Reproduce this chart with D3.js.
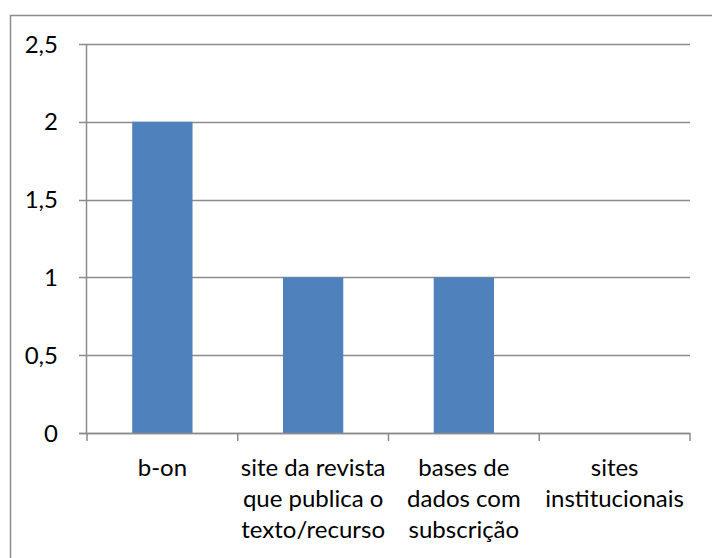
<!DOCTYPE html>
<html>
<head>
<meta charset="utf-8">
<script src="https://cdn.jsdelivr.net/npm/d3@7"></script>
<style>
  body { margin: 0; background: #fff; }
  svg { display: block; font-family: Lato, "Liberation Sans", sans-serif; }
</style>
</head>
<body>
<svg width="712" height="558"></svg>
<script>
const width = 712;
const height = 558;

const categories = ["b-on", "site da revista que publica o texto/recurso", "bases de dados com subscrição", "sites institucionais"];
const categoryLines = [
  ["b-on"],
  ["site da revista", "que publica o", "texto/recurso"],
  ["bases de", "dados com", "subscrição"],
  ["sites", "institucionais"]
];
const values = [2, 1, 1, 0];
const yTicks = [0, 0.5, 1, 1.5, 2, 2.5];

const margin = { left: 87, right: 22, top: 44, bottom: 125 };
const gridColor = "#8c8c8c";
const barColor = "#4f81bd";
const fontSize = 24;

const svg = d3.select("svg");

// outer chart border (runs off the right/bottom edges)
svg.append("rect")
  .attr("x", 10.5)
  .attr("y", 15.5)
  .attr("width", 720)
  .attr("height", 560)
  .attr("fill", "none")
  .attr("stroke", gridColor)
  .attr("stroke-width", 1.5);

const x = d3.scaleBand()
  .domain(categories)
  .range([margin.left, width - margin.right])
  .padding(0);

const y = d3.scaleLinear()
  .domain([0, 2.5])
  .range([height - margin.bottom, margin.top]);

// gridlines + y tick marks
svg.append("g")
  .selectAll("line")
  .data(yTicks)
  .join("line")
  .attr("x1", margin.left - 8)
  .attr("x2", width - margin.right)
  .attr("y1", d => Math.round(y(d)) + 0.5)
  .attr("y2", d => Math.round(y(d)) + 0.5)
  .attr("stroke", gridColor)
  .attr("stroke-width", 1.5);

// y axis line
svg.append("line")
  .attr("x1", margin.left - 0.5)
  .attr("x2", margin.left - 0.5)
  .attr("y1", y(2.5))
  .attr("y2", y(0))
  .attr("stroke", gridColor)
  .attr("stroke-width", 1.5);

// y labels
const fmt = d => String(d).replace(".", ",");
svg.append("g")
  .selectAll("text")
  .data(yTicks)
  .join("text")
  .attr("x", 58)
  .attr("y", d => y(d))
  .attr("dy", "0.36em")
  .attr("text-anchor", "end")
  .attr("font-size", fontSize)
  .attr("fill", "#000")
  .text(fmt);

// bars
const barW = x.bandwidth() * 0.4;
svg.append("g")
  .selectAll("rect")
  .data(values)
  .join("rect")
  .attr("x", (d, i) => x(categories[i]) + (x.bandwidth() - barW) / 2)
  .attr("y", d => y(d))
  .attr("width", barW)
  .attr("height", d => y(0) - y(d))
  .attr("fill", barColor);

// x axis line redrawn on top of bars
svg.append("line")
  .attr("x1", margin.left - 8)
  .attr("x2", width - margin.right)
  .attr("y1", Math.round(y(0)) + 0.5)
  .attr("y2", Math.round(y(0)) + 0.5)
  .attr("stroke", gridColor)
  .attr("stroke-width", 1.5);

// category boundary ticks
const boundaries = categories.map(c => x(c)).concat([width - margin.right]);
svg.append("g")
  .selectAll("line")
  .data(boundaries)
  .join("line")
  .attr("x1", d => d)
  .attr("x2", d => d)
  .attr("y1", y(0))
  .attr("y2", y(0) + 8)
  .attr("stroke", gridColor)
  .attr("stroke-width", 1.5);

// category labels
const labels = svg.append("g")
  .selectAll("text")
  .data(categories)
  .join("text")
  .attr("x", d => x(d) + x.bandwidth() / 2)
  .attr("y", 476)
  .attr("text-anchor", "middle")
  .attr("font-size", fontSize)
  .attr("fill", "#000");

labels.selectAll("tspan")
  .data((d, i) => categoryLines[i])
  .join("tspan")
  .attr("x", function () { return d3.select(this.parentNode).attr("x"); })
  .attr("dy", (d, i) => i === 0 ? 0 : 31)
  .text(d => d);
</script>
</body>
</html>
